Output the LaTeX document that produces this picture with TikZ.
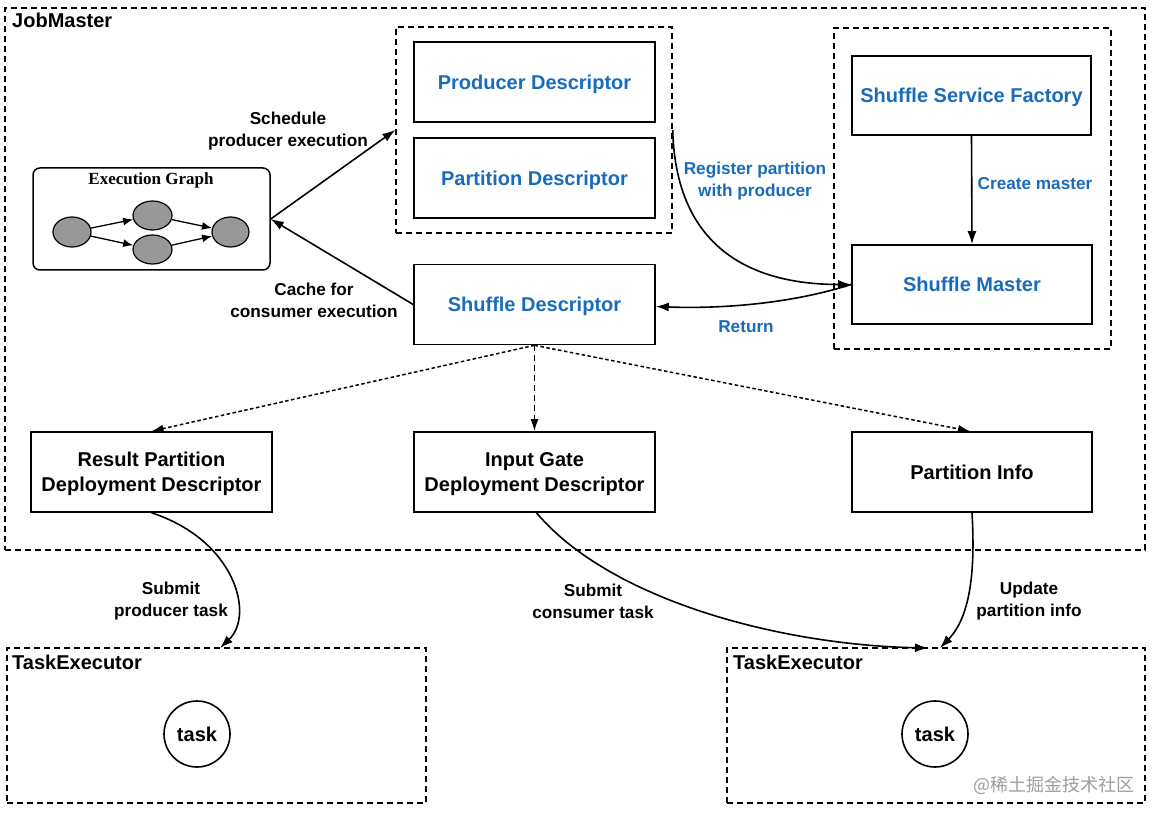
\documentclass[tikz,border=0pt]{standalone}
\usepackage{fontspec}
\setmainfont{Liberation Sans}
\newfontfamily\egfont{Liberation Serif}
\newfontfamily\cjkfont{Noto Sans CJK SC}
\usetikzlibrary{shapes.geometric,arrows.meta,calc}
\definecolor{dblue}{RGB}{25,108,188}
\definecolor{egfill}{RGB}{152,152,152}
\definecolor{wmgray}{RGB}{158,158,158}
\begin{document}
\begin{tikzpicture}[x=1pt,y=-1pt,
  box/.style={draw, line width=1.6pt, minimum width=241pt, minimum height=80pt, inner sep=0pt, align=center, text depth=0pt, font=\fontsize{20}{24.5}\selectfont\bfseries},
  bluetext/.style={text=dblue},
  group/.style={draw, line width=1.4pt, dash pattern=on 6pt off 4pt, inner sep=0pt},
  lbl/.style={align=center, font=\fontsize{17.2}{22}\selectfont\bfseries, inner sep=0pt},
  title/.style={font=\fontsize{20}{24}\selectfont\bfseries, inner sep=0pt, anchor=base west},
  arr/.style={line width=1.6pt, -{Latex[length=13pt,width=9pt]}},
  darr/.style={line width=1.5pt, -{Latex[length=12pt,width=8pt]}},
  smallarr/.style={line width=1.3pt, -{Latex[length=10pt,width=8pt]}},
  egnode/.style={ellipse, draw, line width=1.2pt, fill=egfill, minimum width=38pt, minimum height=30pt, inner sep=0pt},
  taskc/.style={circle, draw, line width=1.6pt, minimum size=66pt, inner sep=0pt, font=\fontsize{20}{24}\selectfont\bfseries}
]
\useasboundingbox[fill=white] (0,0) rectangle (1154,818);

% outer containers
\node[group, minimum width=1140pt, minimum height=542pt] (jm) at (575,279) {};
\node[title] (jmlabel) at (12,28) {JobMaster};
\node[group, minimum width=276pt, minimum height=206pt] (grp1) at (534,130) {};
\node[group, minimum width=277pt, minimum height=321pt] (grp2) at (972.5,188.5) {};
\node[group, minimum width=419pt, minimum height=155pt] (te1) at (216.5,725.5) {};
\node[group, minimum width=418pt, minimum height=155pt] (te2) at (936,725.5) {};
\node[title] (te1label) at (12,669) {TaskExecutor};
\node[title] (te2label) at (733,669) {TaskExecutor};

% boxes
\node[box, bluetext] (prod) at (534.5,82) {Producer Descriptor};
\node[box, bluetext] (part) at (534.5,178) {Partition Descriptor};
\node[box, bluetext] (sd) at (534.5,304.5) {Shuffle Descriptor};
\node[box, bluetext, minimum width=239pt, minimum height=79pt] (ssf) at (971.5,95.5) {Shuffle Service Factory};
\node[box, bluetext, minimum width=240pt, minimum height=79pt] (sm) at (972,284.5) {Shuffle Master};
\node[box] (rp) at (151.5,472) {Result Partition\\Deployment Descriptor};
\node[box] (ig) at (534.5,472) {Input Gate\\Deployment Descriptor};
\node[box, minimum width=240pt] (pi) at (972,472) {Partition Info};

% execution graph
\node[draw, line width=1.5pt, rounded corners=7pt, minimum width=237pt, minimum height=102pt, inner sep=0pt] (eg) at (151.5,219) {};
\node[font=\egfont\fontsize{17}{20}\selectfont\bfseries, inner sep=0pt] (egtitle) at (151,180) {Execution Graph};
\node[egnode] (e1) at (72,232) {};
\node[egnode, minimum width=39pt, minimum height=29pt] (e2) at (152.5,215.5) {};
\node[egnode, minimum width=39pt, minimum height=29pt] (e3) at (152.5,249.5) {};
\node[egnode, minimum width=37pt] (e4) at (230.5,232) {};
\draw[smallarr] (e1) -- (e2);
\draw[smallarr] (e1) -- (e3);
\draw[smallarr] (e2) -- (e4);
\draw[smallarr] (e3) -- (e4);

% tasks
\node[taskc] (t1) at (197,734) {task};
\node[taskc] (t2) at (935,734) {task};

% connectors in JobMaster
\draw[arr] (eg.east) -- (grp1.west);
\draw[arr] (sd.west) -- (eg.east);
\node[lbl] (l1) at (288,131) {Schedule\\producer execution};
\node[lbl] (l2) at (314,300) {Cache for\\consumer execution};

\draw[arr] (grp1.east) .. controls (676,255) and (760,284.5) .. (sm.west);
\node[lbl, bluetext] (l3) at (755,181) {Register partition\\with producer};
\draw[arr] (sm.west) .. controls (790,304) and (720,309) .. ($(sd.east)+(0,2)$);
\node[lbl, bluetext] (l4) at (746,327) {Return};
\draw[arr] (ssf.south) -- (sm.north);
\node[lbl, bluetext] (l5) at (1035,184) {Create master};

\draw[darr, dash pattern=on 3.5pt off 2.5pt] (sd.south) -- (rp.north);
\draw[darr, dash pattern=on 6pt off 4pt] (sd.south) -- (ig.north);
\draw[darr, dash pattern=on 3.5pt off 2.5pt] (sd.south) -- ($(pi.north)+(-2,0)$);

% submissions
\coordinate (c1) at (220,648);
\coordinate (c2) at (928,648);
\coordinate (c3) at (940,648);
\draw[arr] (rp.south) .. controls (235,540) and (255,615) .. (c1);
\node[lbl] (l6) at (171,601) {Submit\\producer task};
\draw[arr] ($(ig.south)+(2,0)$) .. controls (610,600) and (780,645) .. (c2);
\node[lbl] (l7) at (593,601) {Submit\\consumer task};
\draw[arr] (pi.south) .. controls (975,565) and (972,615) .. (c3);
\node[lbl] (l8) at (1029,601) {Update\\partition info};

% watermark
\node[anchor=west, inner sep=0pt, text=wmgray, font=\cjkfont\fontsize{18}{20}\selectfont] (wm) at (973,785) {@稀土掘金技术社区};
\end{tikzpicture}
\end{document}
